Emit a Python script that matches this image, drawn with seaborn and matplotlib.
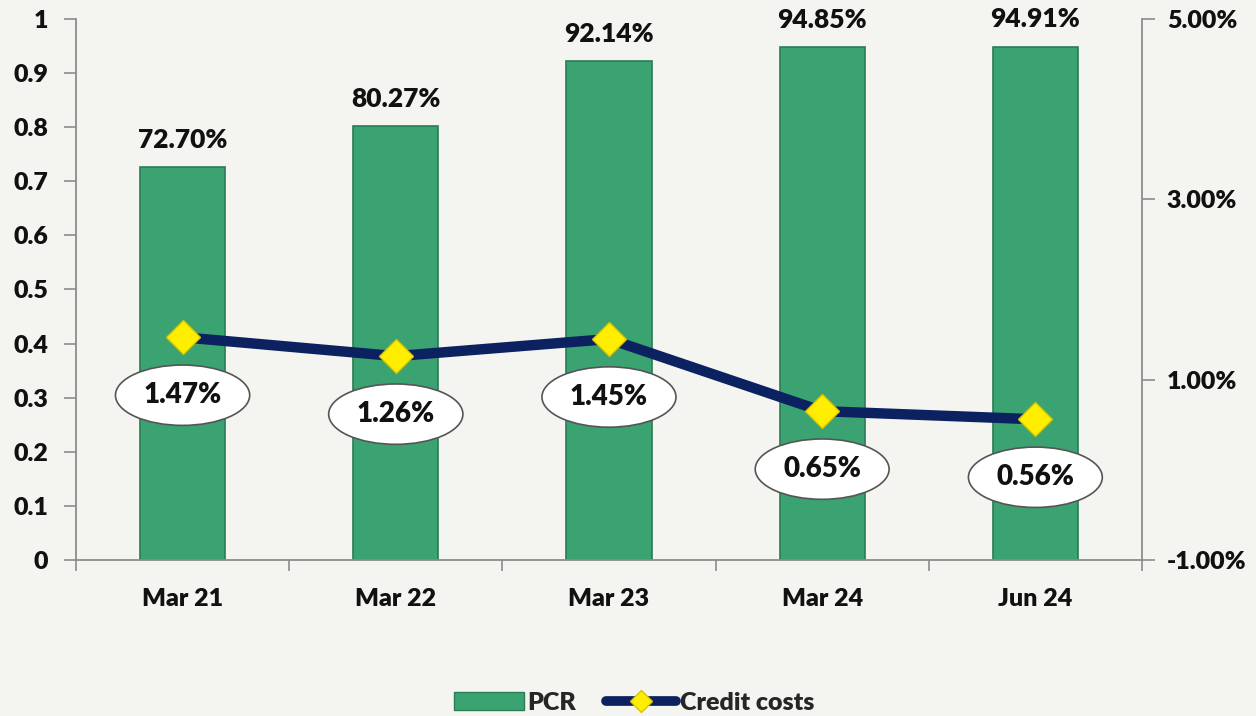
import matplotlib
matplotlib.use("Agg")
import matplotlib.pyplot as plt
from matplotlib.patches import Patch
from matplotlib.lines import Line2D
from matplotlib.ticker import FuncFormatter, FixedLocator
import seaborn as sns

quarters = ["Mar 21", "Mar 22", "Mar 23", "Mar 24", "Jun 24"]
pcr = [0.7270, 0.8027, 0.9214, 0.9485, 0.9491]
credit_costs = [1.47, 1.26, 1.45, 0.65, 0.56]

bg = "#f4f4f1"
bar_green = "#3aa371"
navy = "#0b2160"
axis_grey = "#8c8c8c"
W = "heavy"

sns.set_theme(style="white")
plt.rcParams["font.family"] = ["Lato", "DejaVu Sans"]

fig = plt.figure(figsize=(12.56, 7.16), dpi=100, facecolor=bg)
ax = fig.add_axes([0.0605, 0.218, 0.8487, 0.7555])
ax.set_facecolor(bg)

# bars (PCR)
sns.barplot(x=quarters, y=pcr, ax=ax, color=bar_green, width=0.4,
            edgecolor="#2b7c55", linewidth=1.2, saturation=1)
ax.set_ylim(0, 1)
ax.set_xlim(-0.5, len(quarters) - 0.5)
ax.yaxis.set_major_locator(FixedLocator([i / 10 for i in range(11)]))
ax.yaxis.set_major_formatter(FuncFormatter(lambda v, p: "%g" % round(v, 1)))
for i, v in enumerate(pcr):
    ax.text(i, v + 0.028, "%.2f%%" % (v * 100), ha="center", va="bottom",
            fontsize=19, fontweight=W, color="#111111")

# line (credit costs) on secondary axis
ax2 = ax.twinx()
sns.pointplot(x=quarters, y=credit_costs, ax=ax2, color=navy, marker="D",
              markersize=17, linewidth=7.5, markerfacecolor="#ffee00",
              markeredgecolor="#d8c400", markeredgewidth=1)
ax2.set_ylim(-1, 5)
ax2.set_xlim(-0.5, len(quarters) - 0.5)
ax2.yaxis.set_major_locator(FixedLocator([-1, 1, 3, 5]))
ax2.yaxis.set_major_formatter(FuncFormatter(lambda v, p: "%.2f%%" % v))
ax2.set_ylabel("")
for i, v in enumerate(credit_costs):
    ax2.annotate("%.2f%%" % v, (i, v), xytext=(0, -58), textcoords="offset pixels",
                 ha="center", va="center", fontsize=20, fontweight=W, color="#111111",
                 bbox=dict(boxstyle="ellipse,pad=0.3", fc="white", ec="#555555", lw=1.2))

# axes styling
for a in (ax, ax2):
    for s in a.spines.values():
        s.set_color(axis_grey)
        s.set_linewidth(1.3)
    a.spines["top"].set_visible(False)
ax.spines["right"].set_visible(False)
ax2.spines["left"].set_visible(False)
ax2.spines["bottom"].set_visible(False)

ax.set_xticks(range(len(quarters)))
ax.set_xticklabels(quarters)
ax.xaxis.set_minor_locator(FixedLocator([i + 0.5 for i in range(-1, len(quarters))]))
ax.tick_params(axis="x", which="major", length=0, pad=20, labelsize=18, labelcolor="#111111")
ax.tick_params(axis="x", which="minor", bottom=True, length=8, width=1.2, color=axis_grey)
ax.tick_params(axis="y", left=True, length=9, width=1.2, color=axis_grey, pad=11,
               labelsize=18, labelcolor="#111111")
ax2.tick_params(axis="y", right=True, length=9, width=1.2, color=axis_grey, pad=9,
                labelsize=18, labelcolor="#111111")
ax2.tick_params(axis="x", bottom=False, labelbottom=False)
for lab in ax.get_xticklabels() + ax.get_yticklabels() + ax2.get_yticklabels():
    lab.set_fontweight(W)

handles = [
    Patch(facecolor=bar_green, edgecolor="#2b7c55", label="PCR"),
    Line2D([0], [0], color=navy, lw=7, marker="D", markersize=11,
           markerfacecolor="#ffee00", markeredgecolor="#d8c400", label="Credit costs"),
]
fig.legend(handles=handles, loc="lower center", bbox_to_anchor=(0.505, -0.028), ncol=2,
           frameon=False, handlelength=2.8, columnspacing=1.2, handletextpad=0.15,
           prop={"weight": W, "size": 18})

fig.savefig("out.png", dpi=100, facecolor=bg)
